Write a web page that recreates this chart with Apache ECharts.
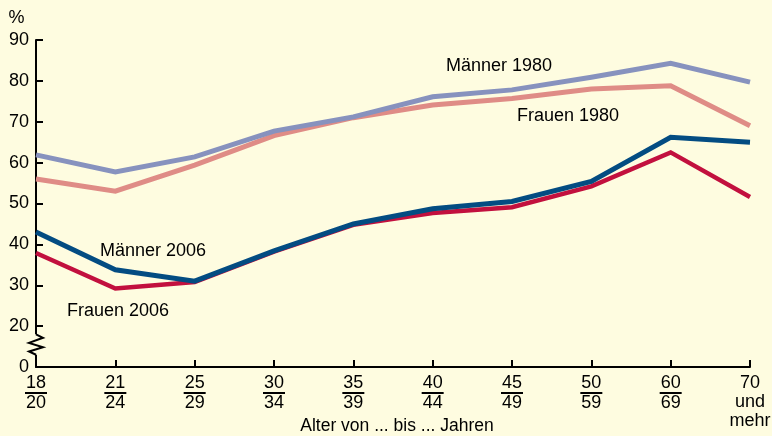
<!DOCTYPE html>
<html><head><meta charset="utf-8">
<script src="https://cdn.jsdelivr.net/npm/echarts@6/dist/echarts.min.js"></script>
<style>html,body{margin:0;padding:0;background:#FEFCE0;}#c{width:772px;height:436px;}</style>
</head><body><div id="c"></div>
<script>
const categories = ['18/20','21/24','25/29','30/34','35/39','40/44','45/49','50/59','60/69','70 und mehr'];
const maenner1980 = [61.9, 57.7, 61.4, 67.7, 71.2, 76.1, 77.8, 80.9, 84.3, 79.7];
const frauen1980  = [56.0, 53.0, 59.4, 66.6, 71.0, 74.1, 75.7, 78.0, 78.8, 69.0];
const maenner2006 = [43.0, 33.8, 31.0, 38.4, 45.0, 48.7, 50.5, 55.4, 66.2, 65.0];
const frauen2006  = [37.9, 29.2, 30.8, 38.2, 44.8, 47.7, 49.1, 54.2, 62.5, 51.6];
const yTicks = [10, 20, 30, 40, 50, 60, 70, 80, 90];
const yTickLabels = ['0','20','30','40','50','60','70','80','90'];
const seriesNames = ['Frauen 1980','Männer 1980','Frauen 2006','Männer 2006'];
const xAxisTitle = 'Alter von ... bis ... Jahren';

const bg = '#FEFCE0';
const FONT = 'Liberation Sans, Arial, sans-serif';
const chart = echarts.init(document.getElementById('c'));

function xLabel(v) {
  if (v.indexOf('/') < 0) {
    return v.split(' ').map(s => '{m|' + s + '}').join('\n');
  }
  const p = v.split('/');
  return '{n|' + p[0] + '}\n{bar|}\n{n|' + p[1] + '}';
}

const colors = ['#DF8C86', '#8792BE', '#C2103E', '#034C82'];
const widths = [5, 5, 4.5, 5];
const datas = [frauen1980, maenner1980, frauen2006, maenner2006];

chart.setOption({
  backgroundColor: bg,
  animation: false,
  grid: { left: 36, right: 22, top: 40, bottom: 69, containLabel: false, outerBoundsMode: 'none' },
  xAxis: {
    type: 'category', data: categories, boundaryGap: false,
    axisLine: { lineStyle: { color: '#000', width: 2 } },
    axisTick: { inside: true, length: 7, lineStyle: { color: '#000', width: 2 } },
    axisLabel: {
      interval: 0, margin: 7, color: '#000', fontFamily: FONT, fontSize: 18,
      formatter: xLabel,
      rich: {
        n: { fontSize: 18, fontFamily: FONT, color: '#000', lineHeight: 18 },
        m: { fontSize: 18, fontFamily: FONT, color: '#000', lineHeight: 19 },
        bar: { width: 22, height: 2, lineHeight: 2, fontSize: 1, backgroundColor: '#000' }
      }
    },
    splitLine: { show: false }
  },
  yAxis: {
    type: 'value', min: 10, max: 90, interval: 10,
    axisLine: { show: true, lineStyle: { color: '#000', width: 2 } },
    axisTick: { show: true, inside: true, length: 7, lineStyle: { color: '#000', width: 2 } },
    axisLabel: {
      margin: 7, color: '#000', fontFamily: FONT, fontSize: 18,
      formatter: v => { const i = yTicks.indexOf(v); return i >= 0 ? yTickLabels[i] : ''; }
    },
    splitLine: { show: false }
  },
  series: datas.map((d, i) => ({
    name: seriesNames[i], type: 'line', data: d, symbol: 'none', smooth: false,
    z: 2 + i,
    lineStyle: { color: colors[i], width: widths[i], join: 'miter', cap: 'butt' }
  }))
});

const x0 = chart.convertToPixel({ xAxisIndex: 0 }, categories[0]);
const yA = chart.convertToPixel({ yAxisIndex: 0 }, 18);
const yB = chart.convertToPixel({ yAxisIndex: 0 }, 13);
const h = yB - yA;
const txt = (t, cx, cy, fs) => ({
  type: 'text', x: cx, y: cy, z: 100,
  style: { text: t, fill: '#000', font: (fs || 18) + 'px ' + FONT, align: 'center', verticalAlign: 'middle' }
});
chart.setOption({
  graphic: [
    { type: 'rect', z: 100, shape: { x: x0 - 3, y: yA, width: 6, height: h }, style: { fill: bg } },
    { type: 'polyline', z: 101, shape: { points: [
      [x0, yA], [x0 + 7, yA + h * 0.17], [x0 - 7, yA + h * 0.42], [x0 + 7, yA + h * 0.63], [x0 - 7, yA + h * 0.84], [x0, yA + h]
    ] }, style: { stroke: '#000', lineWidth: 2, fill: null } },
    txt('%', 16.5, 18.5),
    txt('Männer 1980', 499, 66),
    txt('Frauen 1980', 568, 116),
    txt('Männer 2006', 153, 251),
    txt('Frauen 2006', 118, 311),
    txt(xAxisTitle, 397, 426, 17.5)
  ]
});
</script></body></html>
